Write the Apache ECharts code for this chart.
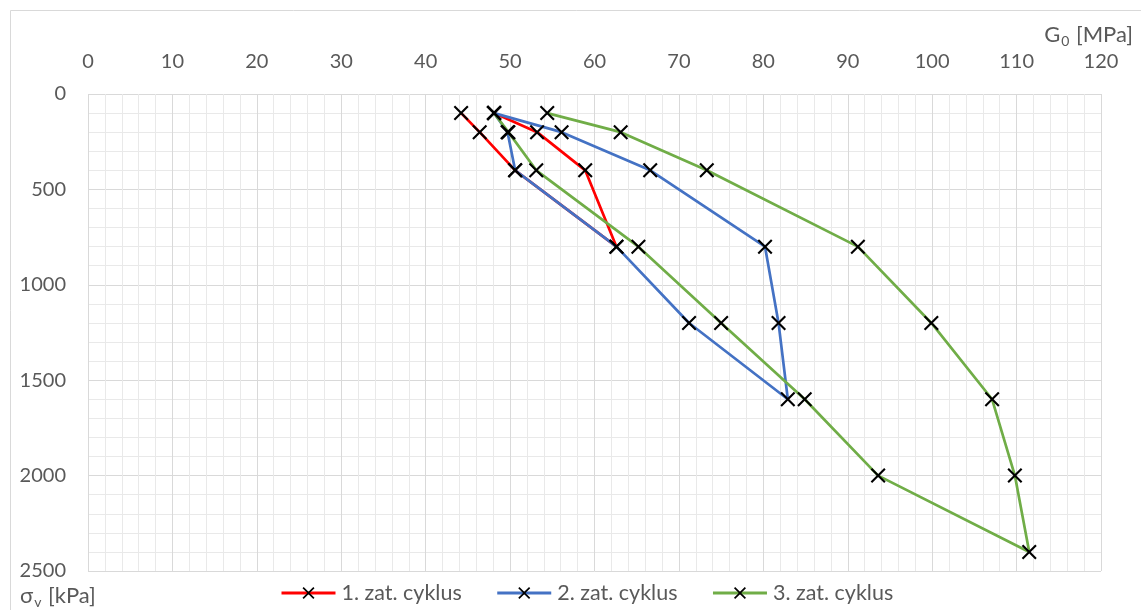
<!DOCTYPE html>
<html>
<head>
<meta charset="utf-8">
<script src="https://cdn.jsdelivr.net/npm/echarts@6/dist/echarts.min.js"></script>
<style>
  html, body { margin: 0; padding: 0; background: #fff; }
  #chart { width: 1141px; height: 610px; }
</style>
</head>
<body>
<div id="chart"></div>
<script>
// Shear modulus G0 [MPa] vs. vertical stress σv [kPa] for three load cycles
const gTicks = [0, 10, 20, 30, 40, 50, 60, 70, 80, 90, 100, 110, 120];
const sTicks = [0, 500, 1000, 1500, 2000, 2500];

const cycle1Name = '1. zat. cyklus';
const cycle1Stress = [100, 200, 400, 800, 400, 200, 100];
const cycle1G = [44.2, 46.4, 50.6, 62.6, 58.9, 53.2, 48.1];

const cycle2Name = '2. zat. cyklus';
const cycle2Stress = [100, 200, 400, 800, 1200, 1600, 1200, 800, 400, 200, 100];
const cycle2G = [48.1, 49.7, 50.6, 62.6, 71.2, 82.9, 81.8, 80.2, 66.6, 56.1, 48.1];

const cycle3Name = '3. zat. cyklus';
const cycle3Stress = [100, 200, 400, 800, 1200, 1600, 2000, 2400, 2000, 1600, 1200, 800, 400, 200, 100];
const cycle3G = [48.1, 49.8, 53.1, 65.2, 75.0, 84.9, 93.6, 111.5, 109.8, 107.1, 99.9, 91.2, 73.3, 63.1, 54.4];

const FONT = 'Lato, "Open Sans", sans-serif';
const TEXT = '#595959';
const CROSS = 'path://M0,2 L2,0 L10,8 L18,0 L20,2 L12,10 L20,18 L18,20 L10,12 L2,20 L0,18 L8,10 Z';

function pairs(g, s) { return g.map((v, i) => [v, s[i]]); }

function cycleSeries(name, g, s, color) {
  return {
    name: name,
    type: 'line',
    data: pairs(g, s),
    symbol: CROSS,
    symbolSize: 15,
    showAllSymbol: true,
    itemStyle: { color: '#000' },
    lineStyle: { color: color, width: 2.7 },
    emphasis: { disabled: true },
    animation: false
  };
}

const plainNumber = v => String(v);

const chart = echarts.init(document.getElementById('chart'), null, { renderer: 'canvas' });
chart.setOption({
  backgroundColor: '#fff',
  animation: false,
  textStyle: { fontFamily: FONT },
  grid: { left: 88, right: 40, top: 94, bottom: 39, containLabel: false },
  xAxis: {
    type: 'value',
    position: 'top',
    min: gTicks[0],
    max: gTicks[gTicks.length - 1],
    interval: gTicks[1] - gTicks[0],
    axisLine: { show: false },
    axisTick: { show: false },
    axisLabel: { color: TEXT, fontSize: 20, fontFamily: FONT, margin: 22, formatter: plainNumber },
    splitLine: { show: true, lineStyle: { color: '#d9d9d9', width: 1 } },
    minorTick: { show: false, splitNumber: 5 },
    minorSplitLine: { show: true, lineStyle: { color: '#e9e9e9', width: 1 } }
  },
  yAxis: {
    type: 'value',
    inverse: true,
    min: sTicks[0],
    max: sTicks[sTicks.length - 1],
    interval: sTicks[1] - sTicks[0],
    axisLine: { show: false },
    axisTick: { show: false },
    axisLabel: { color: TEXT, fontSize: 20, fontFamily: FONT, margin: 22, formatter: plainNumber },
    splitLine: { show: true, lineStyle: { color: '#d9d9d9', width: 1 } },
    minorTick: { show: false, splitNumber: 5 },
    minorSplitLine: { show: true, lineStyle: { color: '#e9e9e9', width: 1 } }
  },
  legend: {
    left: 280,
    top: 582,
    padding: 0,
    itemWidth: 54,
    itemHeight: 15,
    itemGap: 34,
    lineStyle: { width: 3 },
    textStyle: { color: TEXT, fontSize: 21.5, fontFamily: FONT, padding: [0, 0, 0, 1] },
    data: [cycle1Name, cycle2Name, cycle3Name]
  },
  graphic: [
    {
      type: 'rect',
      silent: true,
      shape: { x: 10.5, y: 10.5, width: 1200, height: 700 },
      style: { fill: 'none', stroke: '#d9d9d9', lineWidth: 1 }
    },
    {
      type: 'text',
      silent: true,
      right: 8,
      top: 22,
      style: {
        text: '{m|G}{s|0}{m| [MPa]}',
        rich: {
          m: { fontSize: 22, fontFamily: FONT, fill: TEXT, color: TEXT, lineHeight: 26 },
          s: { fontSize: 14, fontFamily: FONT, fill: TEXT, color: TEXT, lineHeight: 26, padding: [12, 1, 0, 1] }
        }
      }
    },
    {
      type: 'text',
      silent: true,
      left: 20,
      top: 583,
      style: {
        text: '{m|σ}{s|v}{m| [kPa]}',
        rich: {
          m: { fontSize: 22, fontFamily: FONT, fill: TEXT, color: TEXT, lineHeight: 26 },
          s: { fontSize: 14, fontFamily: FONT, fill: TEXT, color: TEXT, lineHeight: 26, padding: [12, 1, 0, 1] }
        }
      }
    }
  ],
  series: [
    cycleSeries(cycle1Name, cycle1G, cycle1Stress, '#ff0000'),
    cycleSeries(cycle2Name, cycle2G, cycle2Stress, '#4472c4'),
    cycleSeries(cycle3Name, cycle3G, cycle3Stress, '#70ad47')
  ]
});
</script>
</body>
</html>
